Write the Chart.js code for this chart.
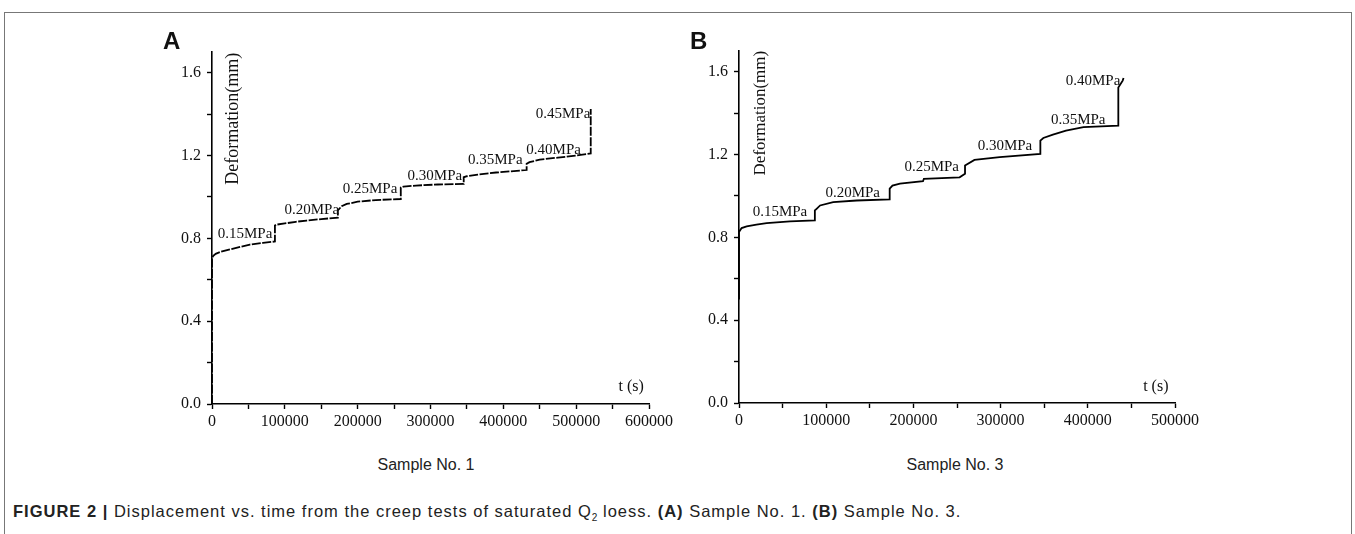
<!DOCTYPE html>
<html>
<head>
<meta charset="utf-8">
<script src="https://cdn.jsdelivr.net/npm/chart.js@4.4.0/dist/chart.umd.min.js"></script>
<style>
  body { margin: 0; background: #fff; width: 1355px; height: 534px; overflow: hidden; position: relative; font-family: "Liberation Sans", Arial, sans-serif; }
  #frame { position: absolute; left: 4px; top: 12px; width: 1346px; height: 600px; border: 1px solid #777; border-bottom: none; }
  canvas { position: absolute; top: 0; }
  .panel { position: absolute; top: 29px; font: bold 24px/24px "Liberation Sans", Arial, sans-serif; color: #111; }
  .sample { position: absolute; top: 457px; width: 200px; text-align: center; font: 16px/16px "Liberation Sans", Arial, sans-serif; color: #222; }
  #caption { position: absolute; left: 13px; top: 503px; font: 16.5px/16px "Liberation Sans", Arial, sans-serif; letter-spacing: 1px; color: #222; white-space: nowrap; }
  #caption sub { font-size: 10px; line-height: 0; letter-spacing: 0; }
</style>
</head>
<body>
<div id="frame"></div>
<canvas id="chartA" width="680" height="440" style="left:0px"></canvas>
<canvas id="chartB" width="675" height="440" style="left:680px"></canvas>
<div class="panel" style="left:163px">A</div>
<div class="panel" style="left:690px">B</div>
<div class="sample" style="left:326px">Sample No. 1</div>
<div class="sample" style="left:855px">Sample No. 3</div>
<div id="caption"><b>FIGURE 2 |</b> Displacement vs. time from the creep tests of saturated Q<sub>2</sub> loess. <b>(A)</b> Sample No. 1. <b>(B)</b> Sample No. 3.</div>

<script>
/* ---- Sample No. 1 : time (s) and deformation (mm) ---- */
const T1 = [0, 0, 1500, 5000, 12000, 25000, 40000, 52000, 70000, 86400,
            86400, 88000, 100000, 115000, 130000, 150000, 172800,
            172800, 178000, 185000, 200000, 225000, 259200,
            259200, 263000, 280000, 310000, 345600,
            345600, 350000, 365000, 390000, 432000,
            432000, 436000, 450000, 475000, 500000, 520000,
            520000];
const D1 = [0, 0.70, 0.715, 0.725, 0.735, 0.747, 0.76, 0.77, 0.778, 0.785,
            0.862, 0.866, 0.872, 0.88, 0.886, 0.893, 0.90,
            0.935, 0.955, 0.966, 0.977, 0.985, 0.99,
            1.045, 1.05, 1.055, 1.06, 1.063,
            1.095, 1.10, 1.108, 1.118, 1.13,
            1.16, 1.168, 1.18, 1.19, 1.20, 1.21,
            1.425];

/* ---- Sample No. 3 ---- */
const T3 = [0, 0, 3000, 8800, 20000, 31700, 58500, 87000,
            87000, 89000, 93000, 108000, 135000, 172800,
            172800, 176000, 184600, 211000, 212000, 253000, 259200,
            259200, 270000, 299000, 345600,
            345600, 349000, 360000, 375000, 395000, 435000,
            435000, 440000, 441000];
const D3 = [0.50, 0.826, 0.845, 0.853, 0.862, 0.869, 0.877, 0.882,
            0.93, 0.938, 0.954, 0.970, 0.978, 0.983,
            1.035, 1.05, 1.059, 1.071, 1.083, 1.09, 1.107,
            1.147, 1.174, 1.187, 1.203,
            1.267, 1.28, 1.296, 1.315, 1.332, 1.34,
            1.524, 1.557, 1.57];

/* stress-stage labels (text, time, deformation) */
const LAB1 = ['0.15MPa', '0.20MPa', '0.25MPa', '0.30MPa', '0.35MPa', '0.40MPa', '0.45MPa'];
const LAB1_T = [45300, 137000, 217000, 306000, 389000, 469000, 482000];
const LAB1_D = [0.82, 0.938, 1.04, 1.10, 1.176, 1.224, 1.40];

const LAB3 = ['0.15MPa', '0.20MPa', '0.25MPa', '0.30MPa', '0.35MPa', '0.40MPa'];
const LAB3_T = [47000, 130400, 221000, 305000, 389000, 406000];
const LAB3_D = [0.922, 1.015, 1.139, 1.243, 1.367, 1.553];

/* axis captions placed inside the plot */
const YTITLE = 'Deformation(mm)';
const XTITLE = 't (s)';
const XMAX1 = 600000, XMAX3 = 500000;
const YMAX = 1.7;

const SERIF = '"Liberation Serif", "Times New Roman", serif';

/* draws stage labels and axis captions at data coordinates */
const textPlugin = {
    id: 'stageText',
    afterDatasetsDraw(chart, args, opts) {
        const ctx = chart.ctx;
        const xs = chart.scales.x, ys = chart.scales.y;
        ctx.save();
        ctx.fillStyle = '#111';
        ctx.textAlign = 'center';
        ctx.textBaseline = 'middle';
        ctx.font = '15px ' + SERIF;
        opts.labels.forEach((txt, i) => {
            ctx.fillText(txt, xs.getPixelForValue(opts.t[i]), ys.getPixelForValue(opts.d[i]));
        });
        // x caption
        ctx.font = '16px ' + SERIF;
        ctx.fillText(XTITLE, xs.getPixelForValue(opts.xt[0]), ys.getPixelForValue(opts.xt[1]));
        // rotated y caption
        ctx.font = opts.ysize + 'px ' + SERIF;
        ctx.translate(xs.getPixelForValue(opts.yt[0]), ys.getPixelForValue(opts.yt[1]));
        ctx.rotate(-Math.PI / 2);
        ctx.fillText(YTITLE, 0, 0);
        ctx.restore();
    }
};

function makeChart(id, T, D, xmax, yWidth, xHeight, padding, labelOpts, dash) {
    const points = T.map((t, i) => ({x: t, y: D[i]}));
    return new Chart(document.getElementById(id), {
        type: 'scatter',
        data: {
            datasets: [{
                data: points,
                showLine: true,
                borderColor: '#000',
                borderWidth: 1.8,
                borderDash: dash,
                pointRadius: 0,
                tension: 0
            }]
        },
        options: {
            responsive: false,
            animation: false,
            devicePixelRatio: 1,
            layout: { padding: padding },
            plugins: {
                legend: { display: false },
                tooltip: { enabled: false },
                stageText: labelOpts
            },
            scales: {
                x: {
                    type: 'linear',
                    min: 0,
                    max: xmax,
                    afterFit: (s) => { s.height = xHeight; },
                    border: { color: '#000', width: 1.6 },
                    grid: { drawOnChartArea: false, color: '#000', tickLength: 5, tickWidth: 1.4 },
                    ticks: {
                        stepSize: 50000,
                        autoSkip: false,
                        maxRotation: 0,
                        padding: 3,
                        color: '#111',
                        font: { family: SERIF, size: 16 },
                        callback: (v) => (v % 100000 === 0 ? String(v) : '')
                    }
                },
                y: {
                    min: 0,
                    max: YMAX,
                    afterFit: (s) => { s.width = yWidth; },
                    afterBuildTicks: (s) => { s.ticks = s.ticks.filter(t => t.value <= 1.61); },
                    border: { color: '#000', width: 1.6 },
                    grid: { drawOnChartArea: false, color: '#000', tickLength: 5, tickWidth: 1.4 },
                    ticks: {
                        stepSize: 0.2,
                        autoSkip: false,
                        padding: 6,
                        color: '#111',
                        font: { family: SERIF, size: 16 },
                        callback: (v) => (Math.round(v * 10) % 4 === 0 ? v.toFixed(1) : '')
                    }
                }
            }
        },
        plugins: [textPlugin]
    });
}

makeChart('chartA', T1, D1, XMAX1, 212, 36, {top: 52, right: 31, left: 0, bottom: 0},
    {labels: LAB1, t: LAB1_T, d: LAB1_D, xt: [575500, 0.083], yt: [29300, 1.378], ysize: 18}, [9, 1.5]);
makeChart('chartB', T3, D3, XMAX3, 59, 37, {top: 51, right: 180, left: 0, bottom: 0},
    {labels: LAB3, t: LAB3_T, d: LAB3_D, xt: [478000, 0.079], yt: [24900, 1.40], ysize: 17}, []);
</script>
</body>
</html>
